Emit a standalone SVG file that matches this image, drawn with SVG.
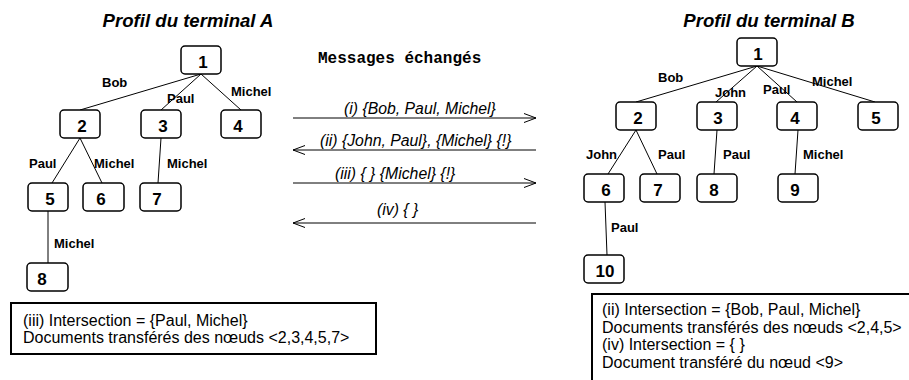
<svg xmlns="http://www.w3.org/2000/svg" width="909" height="380" viewBox="0 0 909 380">
<style>
.bg{fill:#fff}
.node rect{fill:#fff;stroke:#000;stroke-width:1.5}
.num{font-family:"Liberation Sans",Arial,sans-serif;font-weight:bold;font-size:17px;fill:#000;text-anchor:middle}
.edge{stroke:#000;stroke-width:1;fill:none}
.lbl{font-family:"Liberation Sans",Arial,sans-serif;font-weight:bold;font-size:13px;fill:#000}
.title{font-family:"Liberation Sans",Arial,sans-serif;font-weight:bold;font-style:italic;font-size:18.6px;fill:#000;text-anchor:middle}
.msg{font-family:"Liberation Sans",Arial,sans-serif;font-style:italic;font-size:15.8px;fill:#000}
.mono{font-family:"Liberation Mono","Courier New",monospace;font-weight:bold;font-size:16px;fill:#000}
.arrow{stroke:#000;stroke-width:1;fill:none}
.box{fill:#fff;stroke:#000;stroke-width:2}
.boxt{font-family:"Liberation Sans",Arial,sans-serif;font-size:16px;fill:#000}
</style>
<defs>
<marker id="open" viewBox="0 0 12 10" refX="12" refY="5" markerWidth="12" markerHeight="10" markerUnits="userSpaceOnUse" orient="auto">
<path d="M0,0.5 L12,5 L0,9.5" fill="none" stroke="#000" stroke-width="1"/>
</marker>
</defs>
<rect class="bg" x="0" y="0" width="909" height="380"/>

<text class="title" x="188" y="27">Profil du terminal A</text>
<text class="title" x="769" y="27">Profil du terminal B</text>
<text class="mono" x="318" y="63">Messages échangés</text>

<g id="connectors">
  <g id="tree-a-edges">
    <line class="edge" x1="201" y1="74" x2="80" y2="110"/>
    <line class="edge" x1="201" y1="74" x2="161" y2="110"/>
    <line class="edge" x1="201" y1="74" x2="241" y2="110"/>
    <line class="edge" x1="80" y1="138" x2="52" y2="183"/>
    <line class="edge" x1="80" y1="138" x2="102" y2="183"/>
    <line class="edge" x1="161" y1="138" x2="158" y2="183"/>
    <line class="edge" x1="48" y1="211" x2="48" y2="263"/>
  </g>
  <g id="tree-b-edges">
    <line class="edge" x1="757" y1="66" x2="636" y2="102"/>
    <line class="edge" x1="757" y1="66" x2="716" y2="102"/>
    <line class="edge" x1="757" y1="66" x2="797" y2="102"/>
    <line class="edge" x1="757" y1="66" x2="875" y2="102"/>
    <line class="edge" x1="636" y1="130" x2="608" y2="174"/>
    <line class="edge" x1="636" y1="130" x2="657" y2="174"/>
    <line class="edge" x1="717" y1="130" x2="714" y2="174"/>
    <line class="edge" x1="798" y1="130" x2="795" y2="174"/>
    <line class="edge" x1="605" y1="202" x2="607" y2="255"/>
  </g>
  <g id="messages">
    <line class="arrow" x1="293" y1="118" x2="536" y2="118" marker-end="url(#open)"/>
    <line class="arrow" x1="536" y1="150" x2="293" y2="150" marker-end="url(#open)"/>
    <line class="arrow" x1="293" y1="183" x2="536" y2="183" marker-end="url(#open)"/>
    <line class="arrow" x1="536" y1="223" x2="293" y2="223" marker-end="url(#open)"/>
  </g>
  <g id="edge-labels">
    <text class="lbl" x="102" y="87">Bob</text>
    <text class="lbl" x="167" y="103">Paul</text>
    <text class="lbl" x="231" y="96">Michel</text>
    <text class="lbl" x="29" y="168">Paul</text>
    <text class="lbl" x="94" y="168">Michel</text>
    <text class="lbl" x="167" y="168">Michel</text>
    <text class="lbl" x="54" y="248">Michel</text>
    <text class="lbl" x="658" y="82">Bob</text>
    <text class="lbl" x="715" y="97">John</text>
    <text class="lbl" x="763" y="94">Paul</text>
    <text class="lbl" x="812" y="86">Michel</text>
    <text class="lbl" x="586" y="159">John</text>
    <text class="lbl" x="658" y="159">Paul</text>
    <text class="lbl" x="723" y="159">Paul</text>
    <text class="lbl" x="803" y="159">Michel</text>
    <text class="lbl" x="611" y="232">Paul</text>
  </g>
  <g id="message-labels">
    <text class="msg" x="344" y="114">(i) {Bob, Paul, Michel}</text>
    <text class="msg" x="320" y="146">(ii) {John, Paul}, {Michel} {!}</text>
    <text class="msg" x="335" y="179">(iii) { } {Michel} {!}</text>
    <text class="msg" x="377" y="215">(iv) { }</text>
  </g>
</g>

<g id="A1" class="node"><rect x="181" y="46" width="40" height="28" rx="4"/><text class="num" x="203" y="68">1</text></g>
<g id="A2" class="node"><rect x="60" y="110" width="40" height="28" rx="4"/><text class="num" x="82" y="132">2</text></g>
<g id="A3" class="node"><rect x="141" y="110" width="40" height="28" rx="4"/><text class="num" x="163" y="132">3</text></g>
<g id="A4" class="node"><rect x="221" y="110" width="40" height="28" rx="4"/><text class="num" x="238" y="132">4</text></g>
<g id="A5" class="node"><rect x="28" y="183" width="40" height="28" rx="4"/><text class="num" x="50" y="205">5</text></g>
<g id="A6" class="node"><rect x="83" y="183" width="41" height="28" rx="4"/><text class="num" x="101" y="205">6</text></g>
<g id="A7" class="node"><rect x="140" y="183" width="41" height="28" rx="4"/><text class="num" x="157" y="205">7</text></g>
<g id="A8" class="node"><rect x="27" y="263" width="41" height="28" rx="4"/><text class="num" x="42" y="285">8</text></g>

<g id="B1" class="node"><rect x="737" y="38" width="40" height="28" rx="4"/><text class="num" x="758" y="60">1</text></g>
<g id="B2" class="node"><rect x="616" y="102" width="40" height="28" rx="4"/><text class="num" x="638" y="124">2</text></g>
<g id="B3" class="node"><rect x="697" y="102" width="40" height="28" rx="4"/><text class="num" x="718" y="124">3</text></g>
<g id="B4" class="node"><rect x="777" y="102" width="40" height="28" rx="4"/><text class="num" x="795" y="124">4</text></g>
<g id="B5" class="node"><rect x="858" y="102" width="40" height="28" rx="4"/><text class="num" x="876" y="124">5</text></g>
<g id="B6" class="node"><rect x="584" y="174" width="40" height="28" rx="4"/><text class="num" x="606" y="196">6</text></g>
<g id="B7" class="node"><rect x="640" y="174" width="40" height="28" rx="4"/><text class="num" x="658" y="196">7</text></g>
<g id="B8" class="node"><rect x="697" y="174" width="40" height="28" rx="4"/><text class="num" x="714" y="196">8</text></g>
<g id="B9" class="node"><rect x="778" y="174" width="40" height="28" rx="4"/><text class="num" x="795" y="196">9</text></g>
<g id="B10" class="node"><rect x="584" y="255" width="40" height="28" rx="4"/><text class="num" x="605" y="277">10</text></g>

<g id="note-A">
  <rect class="box" x="11" y="303" width="365" height="51"/>
  <text class="boxt" x="23" y="326">(iii) Intersection = {Paul, Michel}</text>
  <text class="boxt" x="23" y="343">Documents transférés des nœuds &lt;2,3,4,5,7&gt;</text>
</g>
<g id="note-B">
  <rect class="box" x="592" y="294" width="330" height="100"/>
  <text class="boxt" x="602" y="315">(ii) Intersection = {Bob, Paul, Michel}</text>
  <text class="boxt" x="602" y="332.5">Documents transférés des nœuds &lt;2,4,5&gt;</text>
  <text class="boxt" x="602" y="350">(iv) Intersection = { }</text>
  <text class="boxt" x="602" y="367.5">Document transféré du nœud &lt;9&gt;</text>
</g>
</svg>
